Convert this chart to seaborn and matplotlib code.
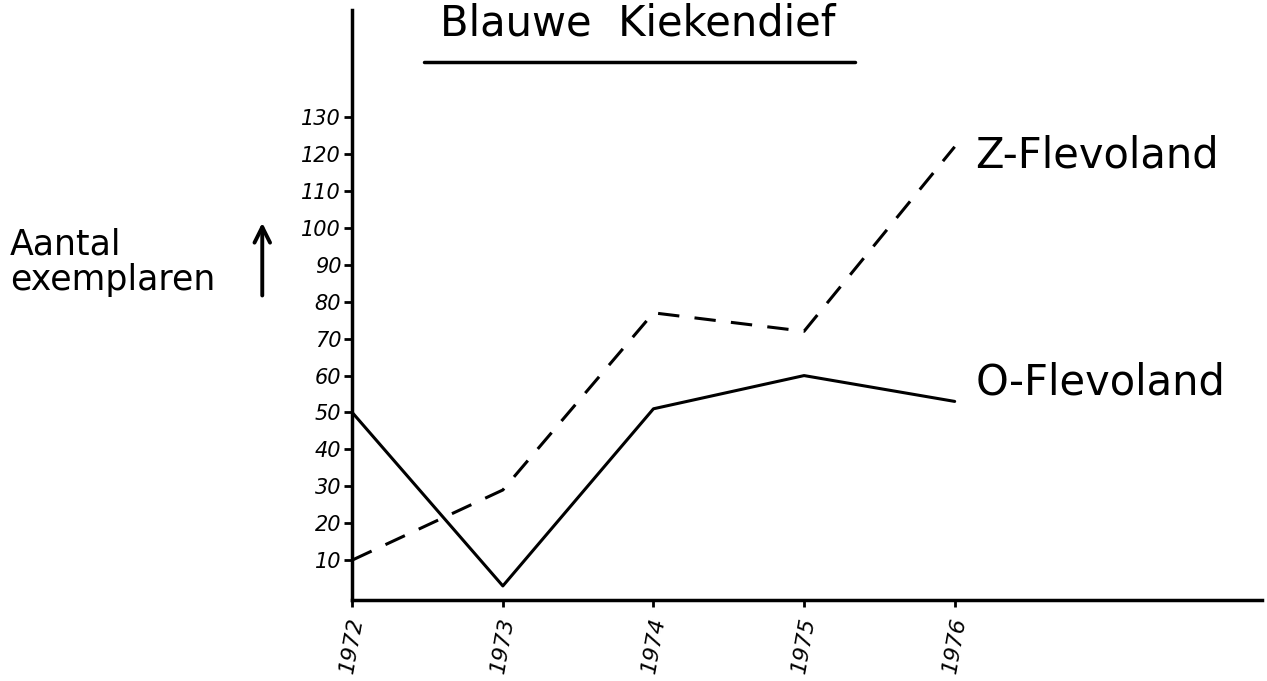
import pandas as pd
import matplotlib.pyplot as plt
import seaborn as sns
from matplotlib.lines import Line2D

# Data
years = [1972, 1973, 1974, 1975, 1976]
z_flevoland = [10, 29, 77, 72, 122]
o_flevoland = [50, 3, 51, 60, 53]
y_ticks = [10, 20, 30, 40, 50, 60, 70, 80, 90, 100, 110, 120, 130]

df = pd.DataFrame({
    'year': years * 2,
    'count': z_flevoland + o_flevoland,
    'region': ['Z-Flevoland'] * len(years) + ['O-Flevoland'] * len(years),
})

sns.set_style('white')
plt.rcParams['font.family'] = ['DejaVu Sans']
plt.rcParams['text.color'] = 'black'
plt.rcParams['xtick.color'] = 'black'
plt.rcParams['ytick.color'] = 'black'

fig = plt.figure(figsize=(12.67, 6.81), dpi=100)
ax = fig.add_axes([0.278, 0.119, 0.718, 0.866])

sns.lineplot(data=df, x='year', y='count', style='region',
             dashes={'Z-Flevoland': (7, 5), 'O-Flevoland': ''},
             color='black', linewidth=2.2, legend=False, ax=ax)

ax.set_xlim(1972, 1978.04)
ax.set_ylim(-0.8, 159)
ax.set_xticks(years)
ax.set_xticklabels([str(y) for y in years], rotation=80, fontsize=16,
                   fontstyle='italic')
ax.set_yticks(y_ticks)
ax.set_yticklabels([str(v) for v in y_ticks], fontsize=15, fontstyle='italic')
ax.tick_params(axis='y', direction='out', length=6, width=2, pad=2, left=True)
ax.tick_params(axis='x', direction='out', length=5, width=2, pad=6, bottom=True)
ax.set_xlabel('')
ax.set_ylabel('')

sns.despine(ax=ax)
for side in ['left', 'bottom']:
    ax.spines[side].set_color('black')
    ax.spines[side].set_linewidth(2.5)

# Title with underline
fig.text(0.503, 0.965, 'Blauwe  Kiekendief', fontsize=30, ha='center', va='center')
fig.add_artist(Line2D([0.335, 0.675], [0.909, 0.909], color='black', linewidth=2.5))

# Y axis label with arrow
fig.text(0.008, 0.615, 'Aantal\nexemplaren', fontsize=25, ha='left', va='center',
         linespacing=1.05)
ax.annotate('', xy=(0.207, 0.677), xytext=(0.207, 0.562),
            xycoords='figure fraction',
            arrowprops=dict(arrowstyle='->', color='black', linewidth=2.8,
                            mutation_scale=28))

# Series labels
fig.text(0.77, 0.772, 'Z-Flevoland', fontsize=30, ha='left', va='center')
fig.text(0.77, 0.438, 'O-Flevoland', fontsize=30, ha='left', va='center')

fig.savefig('out.png', dpi=100)
plt.close(fig)
